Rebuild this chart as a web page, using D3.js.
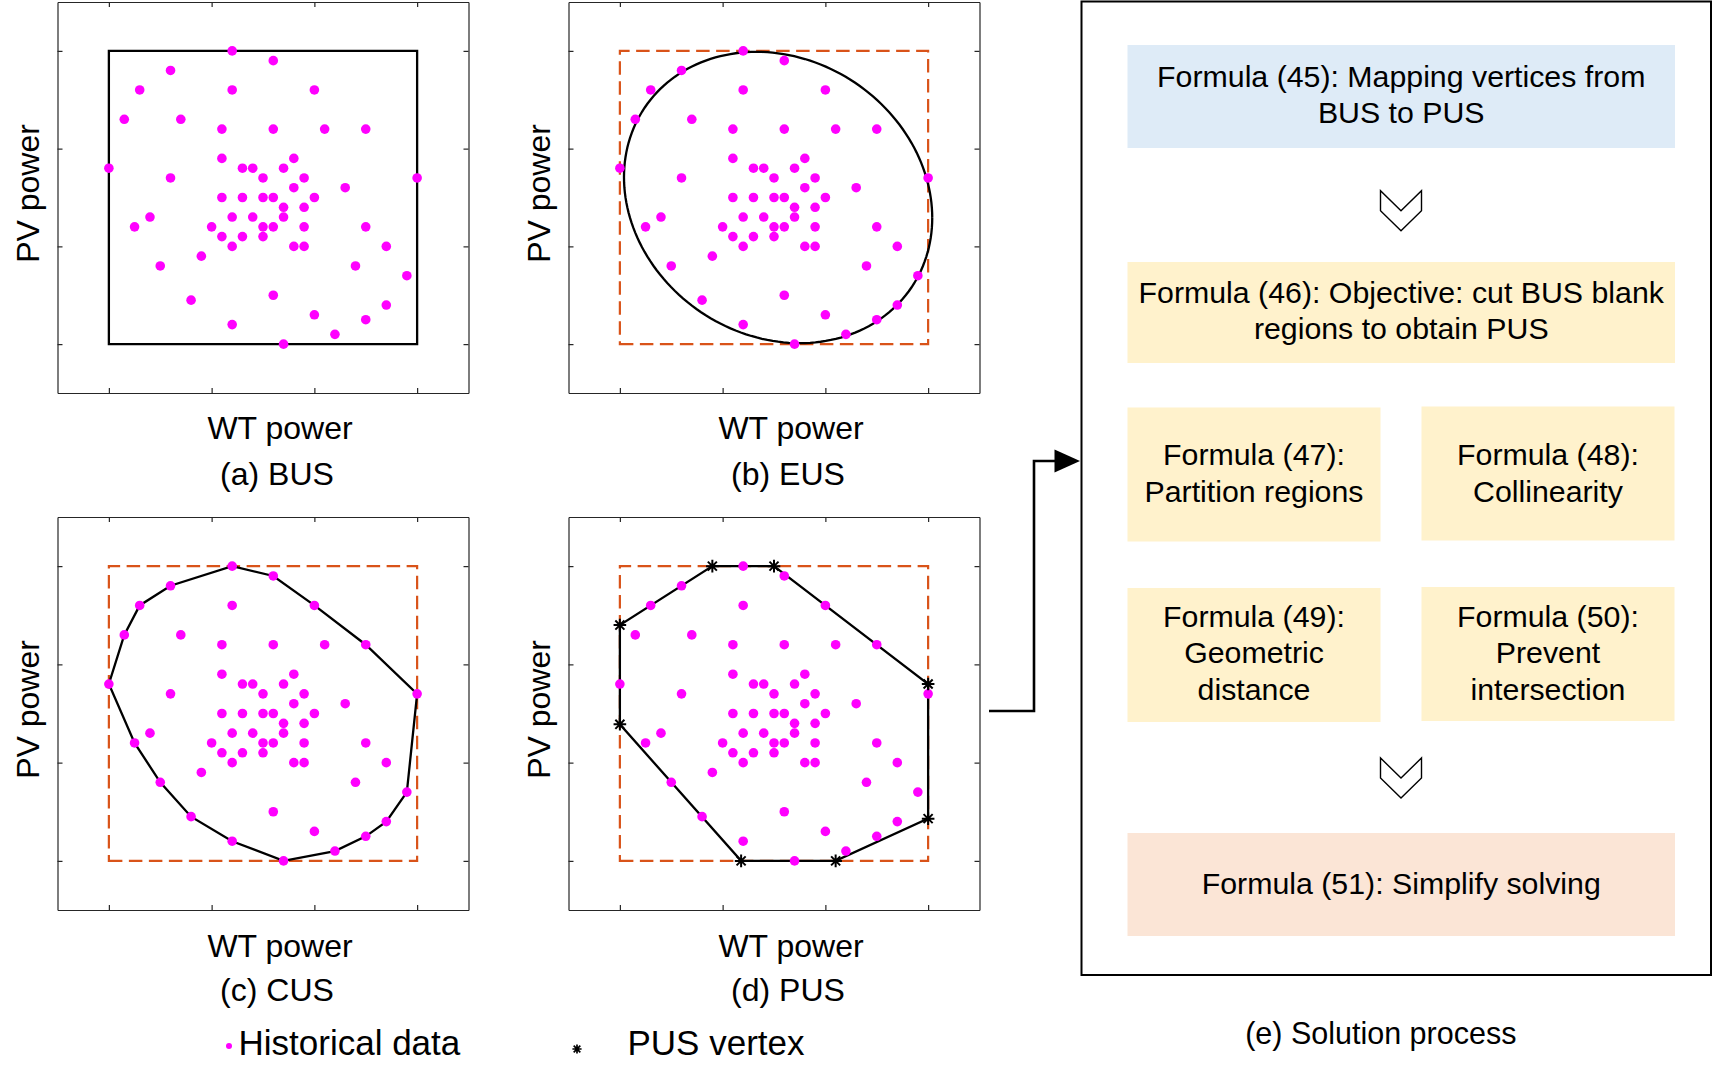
<!DOCTYPE html>
<html><head><meta charset="utf-8">
<script src="https://cdn.jsdelivr.net/npm/d3@7"></script>
<style>
body{margin:0;background:#fff}
text{font-family:"Liberation Sans",Arial,Helvetica,sans-serif;fill:#000}
</style>
</head><body>
<svg id="chart" width="1713" height="1080"></svg>
<script>
// ---------------- data ----------------
const histX = [1.2,1.6,0.6,0.3,1.2,2.0,0.15,0.7,1.1,1.6,2.1,2.5,1.1,1.8,0,1.3,1.4,1.7,0.6,1.5,1.9,3.0,1.8,2.3,1.1,1.3,1.5,1.6,2.0,1.7,1.9,0.4,1.2,1.4,1.7,0.25,1.0,1.5,1.6,1.9,2.5,1.1,1.3,1.5,1.2,1.8,1.9,2.7,0.9,0.5,2.4,2.9,1.6,0.8,2.7,2.0,2.5,1.2,2.2,1.7];
const histY = [3.0,2.9,2.8,2.6,2.6,2.6,2.3,2.3,2.2,2.2,2.2,2.2,1.9,1.9,1.8,1.8,1.8,1.8,1.7,1.7,1.7,1.7,1.6,1.6,1.5,1.5,1.5,1.5,1.5,1.4,1.4,1.3,1.3,1.3,1.3,1.2,1.2,1.2,1.2,1.2,1.2,1.1,1.1,1.1,1.0,1.0,1.0,1.0,0.9,0.8,0.8,0.7,0.5,0.45,0.4,0.3,0.25,0.2,0.1,0.0];
const busX = [0, 3];
const busY = [0, 3];
const eusCenter = [1.54, 1.50];
const eusRadius = [1.50, 1.49];
const eusCorr = -0.14;
const pusX = [0.9, 1.5, 3.0, 3.0, 2.1, 1.18, 0, 0];
const pusY = [3.0, 3.0, 1.8, 0.43, 0, 0, 1.39, 2.4];
const tickValues = [0, 1, 2, 3];
const axisDomain = [-0.5, 3.5];
const panelTitles = ["(a) BUS", "(b) EUS", "(c) CUS", "(d) PUS"];
const xLabel = "WT power";
const yLabel = "PV power";
const legendLabels = ["Historical data", "PUS vertex"];
const flowTexts = [
  ["Formula (45): Mapping vertices from", "BUS to PUS"],
  ["Formula (46): Objective: cut BUS blank", "regions to obtain PUS"],
  ["Formula (47):", "Partition regions"],
  ["Formula (48):", "Collinearity"],
  ["Formula (49):", "Geometric", "distance"],
  ["Formula (50):", "Prevent", "intersection"],
  ["Formula (51): Simplify solving"]
];
const flowCaption = "(e) Solution process";

// ---------------- drawing ----------------
const svg = d3.select("#chart");
svg.append("rect").attr("width",1713).attr("height",1080).attr("fill","#fff");

const MAGENTA = "#ff00ff", ORANGE = "#d95319", AXC = "#262626";
const pts = histX.map((x,i)=>[x, histY[i]]);
const starPath = s => `M${-s},0H${s}M0,${-s}V${s}M${-s*0.72},${-s*0.72}L${s*0.72},${s*0.72}M${-s*0.72},${s*0.72}L${s*0.72},${-s*0.72}`;

const panels = [
  {left:57.5, top:2,   w:411, h:391},
  {left:568.5,top:2,   w:411, h:391},
  {left:57.5, top:517, w:411, h:393},
  {left:568.5,top:517, w:411, h:393}
];

panels.forEach((p, i) => {
  const x = d3.scaleLinear().domain(axisDomain).range([p.left, p.left + p.w]);
  const y = d3.scaleLinear().domain(axisDomain).range([p.top + p.h, p.top]);
  const g = svg.append("g");

  const mk = (axis, tx, ty) => {
    const a = g.append("g").attr("transform",`translate(${tx},${ty})`)
      .call(axis.tickValues(tickValues).tickSize(-5).tickSizeOuter(0).tickFormat(""));
    a.selectAll("path,line").attr("stroke",AXC).attr("stroke-width",1.2);
    a.selectAll("text").remove();
  };
  mk(d3.axisBottom(x), 0, p.top + p.h);
  mk(d3.axisTop(x), 0, p.top);
  mk(d3.axisLeft(y), p.left, 0);
  mk(d3.axisRight(y), p.left + p.w, 0);

  const rectPath = `M${x(busX[0])},${y(busY[0])}H${x(busX[1])}V${y(busY[1])}H${x(busX[0])}Z`;
  if (i === 0) {
    g.append("path").attr("d",rectPath).attr("fill","none").attr("stroke","#000").attr("stroke-width",2.3);
  } else {
    g.append("path").attr("d",rectPath).attr("fill","none").attr("stroke",ORANGE)
      .attr("stroke-width",2.2).attr("stroke-dasharray","13.5,6.5");
  }

  const line = d3.line().x(d=>x(d[0])).y(d=>y(d[1]));
  if (i === 1) {
    const phi = Math.acos(eusCorr);
    const ell = d3.range(0, 361, 2).map(a => {
      const t = a * Math.PI / 180;
      return [eusCenter[0] + eusRadius[0]*Math.cos(t), eusCenter[1] + eusRadius[1]*Math.cos(t - phi)];
    });
    g.append("path").attr("d", line(ell)).attr("fill","none").attr("stroke","#000").attr("stroke-width",2.3);
  }
  if (i === 2) {
    const hull = d3.polygonHull(pts);
    g.append("path").attr("d", line(hull) + "Z").attr("fill","none").attr("stroke","#000").attr("stroke-width",2.3);
  }
  let pus = null;
  if (i === 3) {
    pus = pusX.map((v,k)=>[v, pusY[k]]);
    g.append("path").attr("d", line(pus) + "Z").attr("fill","none").attr("stroke","#000").attr("stroke-width",2.3);
  }

  g.selectAll("circle.pt").data(pts).join("circle").attr("class","pt")
    .attr("cx",d=>x(d[0])).attr("cy",d=>y(d[1])).attr("r",4.8).attr("fill",MAGENTA);

  if (pus) {
    g.selectAll("path.star").data(pus).join("path").attr("class","star")
      .attr("transform",d=>`translate(${x(d[0])},${y(d[1])})`)
      .attr("d", starPath(6.3)).attr("stroke","#000").attr("stroke-width",2).attr("fill","none");
  }

  const cx = p.left + p.w/2;
  const bottomRow = i >= 2;
  svg.append("text").attr("x", cx + 17).attr("y", bottomRow ? 956.5 : 438.5)
    .attr("text-anchor","middle").attr("font-size",32).text(xLabel);
  svg.append("text").attr("x", cx + 14).attr("y", bottomRow ? 1001 : 485)
    .attr("text-anchor","middle").attr("font-size",32).text(panelTitles[i]);
  const ly = p.top + p.h/2 - 4;
  const lx = p.left - 30;
  svg.append("text").attr("transform",`translate(${lx + 11},${ly}) rotate(-90)`)
    .attr("text-anchor","middle").attr("font-size",32).text(yLabel);
});

// legend
svg.append("circle").attr("cx",229).attr("cy",1046).attr("r",3).attr("fill",MAGENTA);
svg.append("text").attr("x",238.5).attr("y",1055).attr("font-size",35).text(legendLabels[0]);
svg.append("path").attr("transform","translate(577,1049)").attr("d",starPath(4.6))
  .attr("stroke","#000").attr("stroke-width",1.7).attr("fill","none");
svg.append("text").attr("x",627.5).attr("y",1055).attr("font-size",35).text(legendLabels[1]);

// ---------------- flow chart ----------------
svg.append("rect").attr("x",1081.5).attr("y",1.5).attr("width",629.5).attr("height",973.5)
  .attr("fill","#fff").attr("stroke","#000").attr("stroke-width",2);

const boxes = [
  {x:1127.5, y:45,  w:547.5, h:103, fill:"#deebf7", base:[87.3,123.3]},
  {x:1127.5, y:262, w:547.5, h:101, fill:"#fff2cc", base:[303.3,339.3]},
  {x:1127.5, y:407.5,w:253, h:134, fill:"#fff2cc", base:[465,501.5]},
  {x:1421.5, y:406.5,w:253, h:134, fill:"#fff2cc", base:[465,501.5]},
  {x:1127.5, y:588, w:253, h:134, fill:"#fff2cc", base:[626.5,663,699.5]},
  {x:1421.5, y:587, w:253, h:134, fill:"#fff2cc", base:[626.5,663,699.5]},
  {x:1127.5, y:833, w:547.5, h:103, fill:"#fbe5d6", base:[893.5]}
];
boxes.forEach((b, i) => {
  svg.append("rect").attr("x",b.x).attr("y",b.y).attr("width",b.w).attr("height",b.h).attr("fill",b.fill);
  flowTexts[i].forEach((t, k) => {
    svg.append("text").attr("x", b.x + b.w/2).attr("y", b.base[k])
      .attr("text-anchor","middle").attr("font-size",30.3).text(t);
  });
});

// chevrons
[[1401, 190.7], [1401, 758]].forEach(([cx, ty]) => {
  const hw = 20.5, h = 40, n = 20;
  svg.append("path")
    .attr("d",`M${cx-hw},${ty}V${ty+n}L${cx},${ty+h}L${cx+hw},${ty+n}V${ty}L${cx},${ty+n}Z`)
    .attr("fill","#fff").attr("stroke","#000").attr("stroke-width",1.4).attr("stroke-linejoin","miter");
});

svg.append("text").attr("x",1380.8).attr("y",1043.5).attr("text-anchor","middle")
  .attr("font-size",30.5).text(flowCaption);

// connector arrow
svg.append("path").attr("d","M989,711H1034V461H1057").attr("fill","none")
  .attr("stroke","#000").attr("stroke-width",2.6);
svg.append("path").attr("d","M1054.5,449.5L1080,461L1054.5,472.5Z").attr("fill","#000");
</script>
</body></html>
